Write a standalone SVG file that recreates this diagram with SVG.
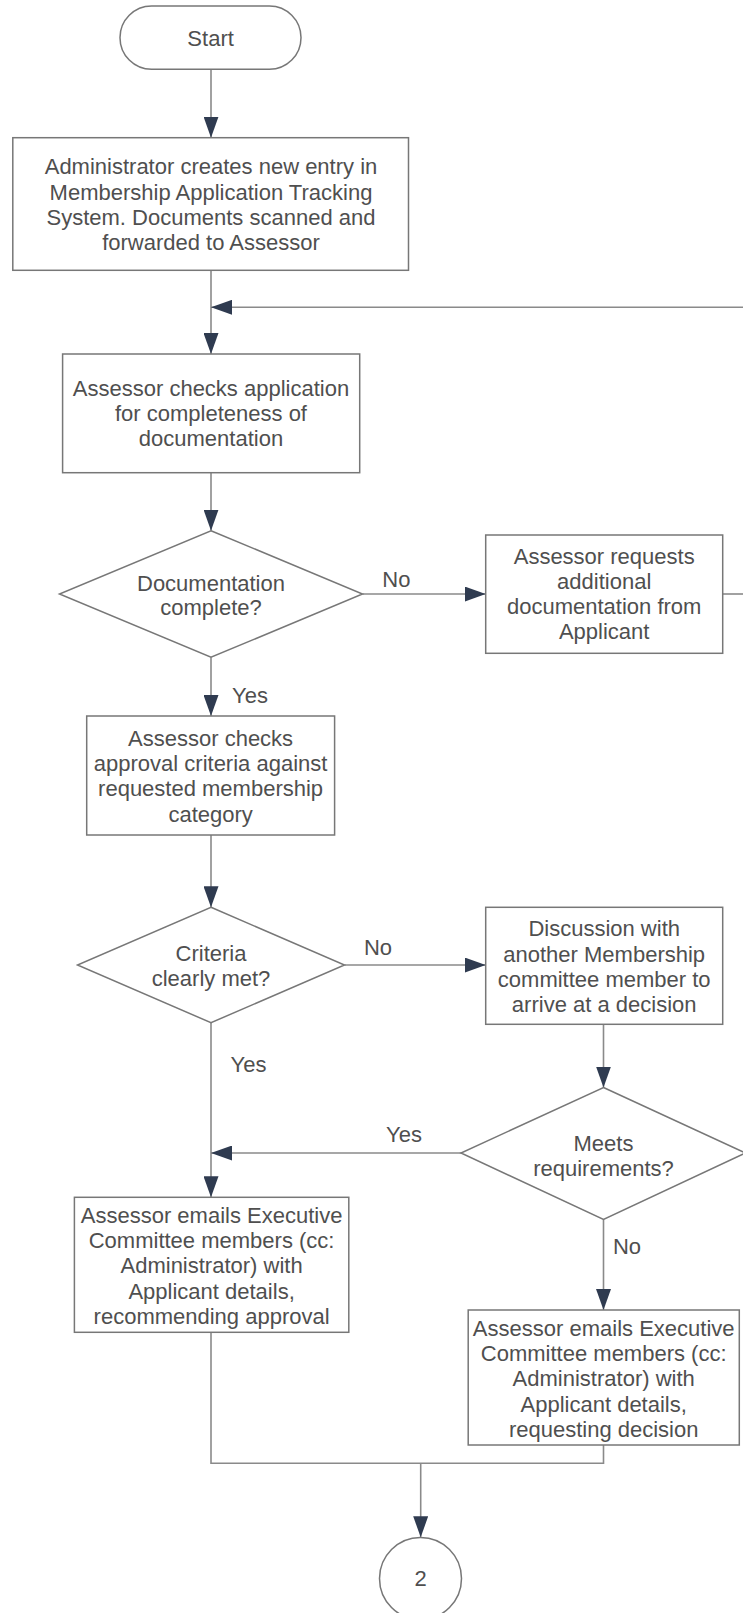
<svg xmlns="http://www.w3.org/2000/svg" width="743" height="1613" viewBox="0 0 743 1613">
<style>
.shape{fill:#ffffff;stroke:#777777;stroke-width:1.5}
.conn{fill:none;stroke:#8a8a8a;stroke-width:1.6}
.t{font-family:"Liberation Sans",Arial,sans-serif;font-size:22px;fill:#4f4f4f;text-anchor:middle}
</style>
<defs>
<marker id="arr" markerUnits="userSpaceOnUse" markerWidth="21" markerHeight="15" refX="21" refY="7.5" orient="auto">
<path d="M0,0 L21,7.5 L0,15 z" fill="#2f3b50"/>
</marker>
</defs>
<rect width="743" height="1613" fill="#ffffff"/>
<g id="connectors">
<path class="conn" d="M211,69.3 V137.7" marker-end="url(#arr)"/>
<path class="conn" d="M211,270.3 V354" marker-end="url(#arr)"/>
<path class="conn" d="M743,307.3 H211" marker-end="url(#arr)"/>
<path class="conn" d="M722.7,594 H743"/>
<path class="conn" d="M211,472.7 V530.7" marker-end="url(#arr)"/>
<path class="conn" d="M362.5,594 H485.7" marker-end="url(#arr)"/>
<path class="conn" d="M211,657.3 V716" marker-end="url(#arr)"/>
<path class="conn" d="M211,835 V907.3" marker-end="url(#arr)"/>
<path class="conn" d="M344.5,965 H485.7" marker-end="url(#arr)"/>
<path class="conn" d="M211,1022.7 V1197.3" marker-end="url(#arr)"/>
<path class="conn" d="M603.5,1024.3 V1087.5" marker-end="url(#arr)"/>
<path class="conn" d="M461,1153 H211" marker-end="url(#arr)"/>
<path class="conn" d="M603.5,1219.5 V1310" marker-end="url(#arr)"/>
<path class="conn" d="M211,1332.3 V1463.3 H603.5 V1445"/>
<path class="conn" d="M420.7,1463.3 V1537.3" marker-end="url(#arr)"/>
</g>
<g id="start">
<rect class="shape" x="120" y="6" width="181" height="63.3" rx="31.6" ry="31.6"/>
<text class="t" x="210.6" y="46">Start</text>
</g>
<g id="create-entry">
<rect class="shape" x="12.8" y="137.7" width="395.7" height="132.6"/>
<text class="t"><tspan x="211" y="174.4">Administrator creates new entry in</tspan><tspan x="211" y="200">Membership Application Tracking</tspan><tspan x="211" y="225">System. Documents scanned and</tspan><tspan x="211" y="250">forwarded to Assessor</tspan></text>
</g>
<g id="check-completeness">
<rect class="shape" x="62.6" y="354" width="297.1" height="118.7"/>
<text class="t"><tspan x="211" y="396">Assessor checks application</tspan><tspan x="211" y="421">for completeness of</tspan><tspan x="211" y="446">documentation</tspan></text>
</g>
<g id="doc-complete">
<polygon class="shape" points="211,530.7 362.5,594 211,657.3 59.5,594"/>
<text class="t"><tspan x="211" y="591">Documentation</tspan><tspan x="211" y="615.4">complete?</tspan></text>
</g>
<g id="request-docs">
<rect class="shape" x="485.7" y="535" width="237" height="118.3"/>
<text class="t"><tspan x="604.2" y="564.4">Assessor requests</tspan><tspan x="604.2" y="589.4">additional</tspan><tspan x="604.2" y="614.4">documentation from</tspan><tspan x="604.2" y="639.4">Applicant</tspan></text>
</g>
<g id="check-criteria">
<rect class="shape" x="86.7" y="716" width="247.9" height="119"/>
<text class="t"><tspan x="210.6" y="746">Assessor checks</tspan><tspan x="210.6" y="771">approval criteria against</tspan><tspan x="210.6" y="796">requested membership</tspan><tspan x="210.6" y="821.7">category</tspan></text>
</g>
<g id="criteria-met">
<polygon class="shape" points="211,907.3 344.5,965 211,1022.7 77.5,965"/>
<text class="t"><tspan x="211" y="961">Criteria</tspan><tspan x="211" y="986">clearly met?</tspan></text>
</g>
<g id="discussion">
<rect class="shape" x="485.7" y="907.3" width="237" height="117"/>
<text class="t"><tspan x="604.2" y="936">Discussion with</tspan><tspan x="604.2" y="961.7">another Membership</tspan><tspan x="604.2" y="986.7">committee member to</tspan><tspan x="604.2" y="1011.7">arrive at a decision</tspan></text>
</g>
<g id="meets-requirements">
<polygon class="shape" points="603.5,1087.5 745.5,1153 603.5,1219.5 461,1153"/>
<text class="t"><tspan x="603.5" y="1151">Meets</tspan><tspan x="603.5" y="1176">requirements?</tspan></text>
</g>
<g id="email-approval">
<rect class="shape" x="74.4" y="1197.3" width="274.4" height="135"/>
<text class="t"><tspan x="211.6" y="1222.7">Assessor emails Executive</tspan><tspan x="211.6" y="1247.7">Committee members (cc:</tspan><tspan x="211.6" y="1273.4">Administrator) with</tspan><tspan x="211.6" y="1298.7">Applicant details,</tspan><tspan x="211.6" y="1323.7">recommending approval</tspan></text>
</g>
<g id="email-decision">
<rect class="shape" x="468.2" y="1310" width="271.1" height="135"/>
<text class="t"><tspan x="603.7" y="1336">Assessor emails Executive</tspan><tspan x="603.7" y="1361">Committee members (cc:</tspan><tspan x="603.7" y="1386">Administrator) with</tspan><tspan x="603.7" y="1411.7">Applicant details,</tspan><tspan x="603.7" y="1436.7">requesting decision</tspan></text>
</g>
<g id="connector-2">
<circle class="shape" cx="420.5" cy="1578.5" r="41"/>
<text class="t" x="420.5" y="1586">2</text>
</g>
<g id="labels">
<text class="t" x="396.4" y="587">No</text>
<text class="t" x="250" y="702.7">Yes</text>
<text class="t" x="378" y="955">No</text>
<text class="t" x="248.5" y="1071.7">Yes</text>
<text class="t" x="404" y="1141.7">Yes</text>
<text class="t" x="627" y="1253.7">No</text>
</g>
</svg>
